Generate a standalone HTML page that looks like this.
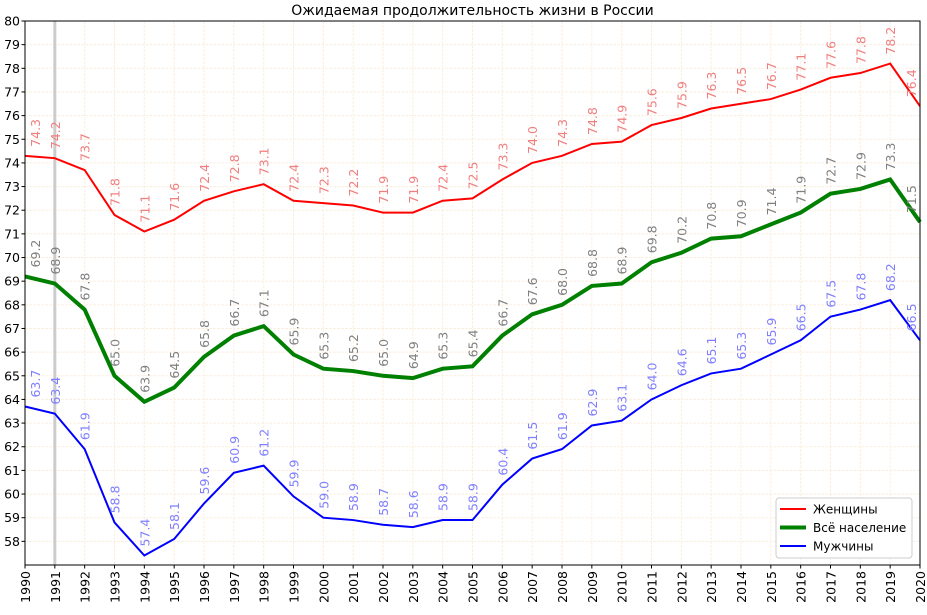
<!DOCTYPE html>
<html><head><meta charset="utf-8"><style>body{margin:0;background:#fff}svg{display:block;font-family:"DejaVu Sans","Liberation Sans",sans-serif}</style></head>
<body>
<svg id="c" width="927" height="615"></svg>
<script>
const years=[];for(let y=1990;y<=2020;y++)years.push(y);
const women=[74.3,74.2,73.7,71.8,71.1,71.6,72.4,72.8,73.1,72.4,72.3,72.2,71.9,71.9,72.4,72.5,73.3,74.0,74.3,74.8,74.9,75.6,75.9,76.3,76.5,76.7,77.1,77.6,77.8,78.2,76.4];
const total=[69.2,68.9,67.8,65.0,63.9,64.5,65.8,66.7,67.1,65.9,65.3,65.2,65.0,64.9,65.3,65.4,66.7,67.6,68.0,68.8,68.9,69.8,70.2,70.8,70.9,71.4,71.9,72.7,72.9,73.3,71.5];
const men=[63.7,63.4,61.9,58.8,57.4,58.1,59.6,60.9,61.2,59.9,59.0,58.9,58.7,58.6,58.9,58.9,60.4,61.5,61.9,62.9,63.1,64.0,64.6,65.1,65.3,65.9,66.5,67.5,67.8,68.2,66.5];
const yTicks=[58,59,60,61,62,63,64,65,66,67,68,69,70,71,72,73,74,75,76,77,78,79,80];
const L=25,R=920,T=21,B=565,Y0=57,Y1=80;
const X=y=>L+(y-1990)/(30)*(R-L);
const Y=v=>B-(v-Y0)/(Y1-Y0)*(B-T);
const svg=document.getElementById('c');const NS='http://www.w3.org/2000/svg';
function mk(t,a,p){const e=document.createElementNS(NS,t);for(const k in a)e.setAttribute(k,a[k]);(p||svg).appendChild(e);return e;}
const grid=mk('g',{});


yTicks.forEach(v=>{mk('line',{x1:L,x2:R,y1:Y(v),y2:Y(v),stroke:'#fcefe2',"stroke-dasharray":'3,1'},grid);
const t=mk('text',{x:L-5,y:Y(v)+4.5,"text-anchor":'end',"font-size":12.5});t.textContent=v;


mk('line',{x1:L-3.5,x2:L,y1:Y(v),y2:Y(v),stroke:'#000'});});
years.forEach(y=>{mk('line',{x1:X(y),x2:X(y),y1:T,y2:B,stroke:'#fcefe2',"stroke-dasharray":'3,1'},grid);
mk('line',{x1:X(y),x2:X(y),y1:B,y2:B+3.5,stroke:'#000'});
const t=mk('text',{transform:`translate(${X(y)+5},${B+6}) rotate(-90)`,"text-anchor":'end',"font-size":12.5});t.textContent=y;

});
const vl=mk('line',{x1:X(1991),x2:X(1991),y1:T,y2:B,stroke:'#ccc',"stroke-width":3});


function series(d,col,w,lab,name){
const p=mk('polyline',{points:d.map((v,i)=>X(years[i])+','+Y(v)).join(' '),fill:'none',stroke:col,"stroke-width":w});


d.forEach((v,i)=>{const lx=Math.max(L+15,Math.min(X(years[i])+5,R-4));const t=mk('text',{transform:`translate(${lx},${Y(v)-9}) rotate(-90)`,"font-size":12.5,fill:lab});t.textContent=v.toFixed(1);

});}
series(women,'#ff0000',2,'#f08080','women');
series(total,'#008000',4,'#808080','total');
series(men,'#0000ff',2,'#8080ff','men');
const fr=mk('rect',{x:L,y:T,width:R-L,height:B-T,fill:'none',stroke:'#000'});


const ti=mk('text',{x:(L+R)/2,y:15,"text-anchor":'middle',"font-size":14});ti.textContent='Ожидаемая продолжительность жизни в России';


const lg=mk('g',{});


mk('rect',{x:776,y:498,width:136,height:60,rx:3,fill:'#fff',stroke:'#ccc'},lg);
[['Женщины','#ff0000',2],['Всё население','#008000',4],['Мужчины','#0000ff',2]].forEach((e,i)=>{
const yy=509+i*18.5;mk('line',{x1:780,x2:806,y1:yy,y2:yy,stroke:e[1],"stroke-width":e[2]},lg);
const t=mk('text',{x:813,y:yy+4.5,"font-size":12},lg);t.textContent=e[0];

});
</script>
</body></html>
